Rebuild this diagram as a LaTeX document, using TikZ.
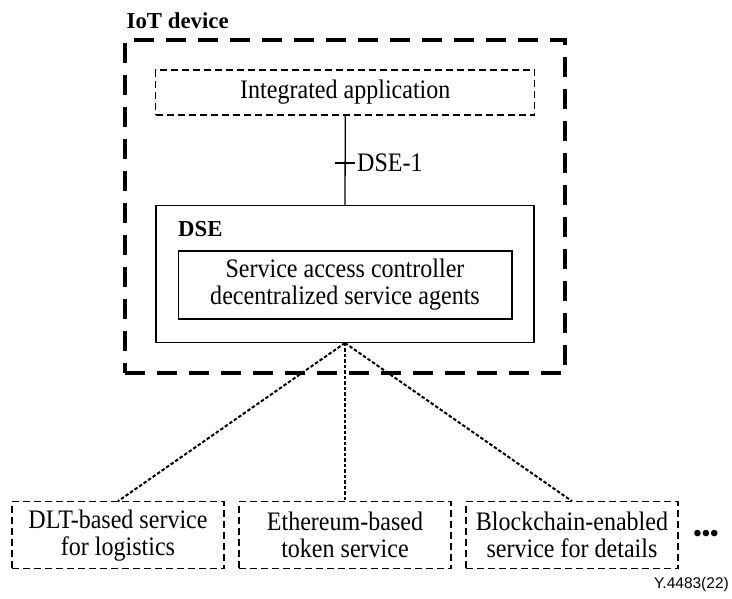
\documentclass[tikz,border=0pt]{standalone}
\usepackage{fontspec}
\setmainfont{Liberation Serif}[FakeStretch=0.9]
\newfontfamily\headfam{Liberation Serif}
\newfontfamily\figsans{Liberation Sans}
\newcommand\bodyfont{\fontsize{26.7}{27}\selectfont}
\newcommand\headfont{\headfam\fontsize{22.8}{27}\selectfont\bfseries}
\tikzset{
  devbox/.style={draw, line width=3.4pt, dash pattern=on 20pt off 12pt, inner sep=0pt},
  dashbox/.style={draw, line width=1.2pt, dash pattern=on 7pt off 4pt,
    align=center, font=\bodyfont, inner sep=0pt},
  solidbox/.style={draw, line width=1.3pt, align=center, font=\bodyfont, inner sep=0pt},
  link/.style={line width=1.3pt},
  dotlink/.style={line width=2pt, dash pattern=on 3.5pt off 2pt},
}
\begin{document}
\begin{tikzpicture}[x=1pt, y=-1pt]
  \useasboundingbox (0,0) rectangle (732,598);

  % IoT device enclosure
  \node[devbox, minimum width=440pt, minimum height=333pt] (dev) at (345,206.5) {};
  \node[anchor=base west, font=\headfont, inner sep=0pt] (devlabel) at (126.5,28.8) {IoT device};

  % Application on top
  \node[dashbox, minimum width=379pt, minimum height=45pt] (app) at (345.3,92.5) {Integrated application};

  % DSE block with its inner component
  \node[solidbox, minimum width=378pt, minimum height=136.6pt] (dse) at (345,274) {};
  \node[anchor=base west, font=\headfont, inner sep=0pt] (dselabel) at (178,236.5) {DSE};
  \node[solidbox, minimum width=333.7pt, minimum height=68pt] (sac) at (345,285)
    {Service access controller\\decentralized service agents};

  % Reference point DSE-1
  \draw[link] (app.south) -- (dse.north);
  \coordinate (tickL) at (335,163);
  \coordinate (tickR) at (355,163);
  \draw[link] (tickL) -- (tickR);
  \node[anchor=west, font=\bodyfont, inner sep=0pt] (ref) at (357,163) {DSE-1};

  % Decentralized services
  \node[dashbox, minimum width=212pt, minimum height=67pt] (s1) at (118,535.3)
    {DLT-based service\\for logistics};
  \node[dashbox, minimum width=212pt, minimum height=67pt] (s2) at (345,535.3)
    {Ethereum-based\\token service};
  \node[dashbox, minimum width=212pt, minimum height=67pt] (s3) at (572,535.3)
    {Blockchain-enabled\\service for details};
  \node[font=\headfam\fontsize{24}{27}\selectfont\bfseries, inner sep=0pt] (more) at (706,535.7) {•••};

  \draw[dotlink] (dse.south) -- (s1.north);
  \draw[dotlink] (dse.south) -- (s2.north);
  \draw[dotlink] (dse.south) -- (s3.north);

  % Figure number
  \node[anchor=base east, font=\figsans\fontsize{15.5}{18}\selectfont, inner sep=0pt] (fig) at (729,588) {Y.4483(22)};
\end{tikzpicture}
\end{document}
